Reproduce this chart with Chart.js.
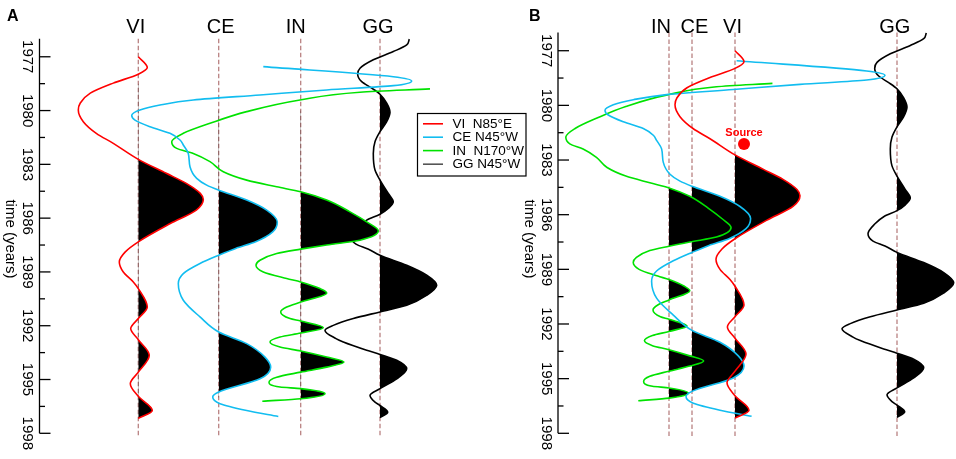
<!DOCTYPE html>
<html><head><meta charset="utf-8">
<script src="https://cdn.jsdelivr.net/npm/chart.js@4.4.1/dist/chart.umd.min.js"></script>
<style>html,body{margin:0;padding:0;background:#fff;}#wrap{width:956px;height:459px;position:relative;}</style>
</head><body><div id="wrap"><canvas id="c" width="956" height="459"></canvas></div>
<script>
// ---------------- data ----------------
const stationNames = ['VI', 'CE', 'IN', 'GG'];
const azimuths = ['N85°E', 'N45°W', 'N170°W', 'N45°W'];
const majorTickYears = [1977, 1980, 1983, 1986, 1989, 1992, 1995, 1998];
const minorTickYears = [1978.5, 1981.5, 1984.5, 1987.5, 1990.5, 1993.5, 1996.5];

const viYears = [1977.0, 1977.6, 1977.97, 1978.47, 1979.03, 1979.58, 1979.97, 1980.62, 1981.27, 1981.83, 1982.72, 1983.5, 1984.06, 1984.62, 1984.96, 1985.55, 1986.3, 1987.32, 1987.88, 1988.44, 1989.0, 1989.56, 1989.93, 1990.96, 1991.6, 1992.16, 1992.78, 1993.65, 1994.59, 1995.23, 1995.94, 1996.73, 1997.17];
const viAmp   = [0, 9, 0, -25, -48, -58, -60, -55, -42, -25, 0, 28, 48, 62, 65, 58, 32, 0, -13, -19, -15, -5, 0, 9, 0, -7.6, 0, 11, 0, -8, 0, 14, 0];

const ceYears = [1977.55, 1978.11, 1978.35, 1978.61, 1978.85, 1979.13, 1979.41, 1979.69, 1979.97, 1980.28, 1980.53, 1980.9, 1981.27, 1981.64, 1981.92, 1982.39, 1983.13, 1983.78, 1984.16, 1984.44, 1984.99, 1985.55, 1986.21, 1986.77, 1987.32, 1987.69, 1988.07, 1988.53, 1989.09, 1989.65, 1990.58, 1991.51, 1992.35, 1993.0, 1993.75, 1994.31, 1994.96, 1995.7, 1995.98, 1996.35, 1996.73, 1997.06];
const ceAmp   = [44.6, 174.6, 193, 174.6, 108, 41.3, -25.4, -58.7, -78.7, -87, -83.7, -68.7, -48.7, -38.7, -35.4, -30.4, -28.7, -22, -12, 0, 28, 48, 58.6, 54, 37, 17, 0, -18.7, -35.4, -40.4, -35.4, -18.7, 0, 28, 46.3, 52, 41.3, 0, -6, 1.3, 28, 59.6];

const inYears = [1978.79, 1978.98, 1979.41, 1980.06, 1980.71, 1981.27, 1981.74, 1982.11, 1982.39, 1982.85, 1983.41, 1983.88, 1984.25, 1984.53, 1984.99, 1985.65, 1986.21, 1986.71, 1987.23, 1987.5, 1987.73, 1987.97, 1988.35, 1988.63, 1989.0, 1989.37, 1989.56, 1989.93, 1990.17, 1990.68, 1990.96, 1991.23, 1991.6, 1991.74, 1992.11, 1992.41, 1992.63, 1992.91, 1993.19, 1993.41, 1993.75, 1994.03, 1994.31, 1994.59, 1994.87, 1995.15, 1995.42, 1995.51, 1995.79, 1996.07, 1996.21];
const inAmp   = [129.3, 59.3, -0.7, -54, -90.7, -117.4, -129, -124, -107.4, -90.7, -77.4, -54, -24, 0, 26, 49.3, 66, 77.6, 59.3, 26, 0, -24, -40.7, -44.7, -37.4, -14, 0, 19.3, 26, 0, -14, -20, -10.7, 0, 22.6, 0, -20.7, -30.7, -20.7, 0, 26, 43.3, 26, 0, -24, -31.7, -20.7, 0, 24.3, 0, -38.4];

const ggYears = [1976.02, 1976.34, 1976.71, 1977.17, 1977.64, 1977.97, 1978.39, 1978.75, 1979.09, 1979.59, 1980.09, 1980.62, 1981.18, 1981.74, 1982.39, 1983.32, 1983.88, 1984.62, 1985.09, 1985.46, 1985.78, 1986.11, 1986.5, 1987.05, 1987.45, 1987.72, 1988.07, 1988.63, 1989.18, 1989.74, 1990.3, 1990.86, 1991.23, 1991.6, 1991.98, 1992.26, 1992.72, 1992.91, 1993.37, 1993.6, 1993.93, 1994.4, 1994.96, 1995.51, 1995.89, 1996.26, 1996.45, 1996.82, 1997.13];
const ggAmp   = [29.3, 26.7, 13.3, -6.7, -20, -22.3, -18.3, -8.3, 0, 6.7, 10, 6.7, 0, -5, -6.7, -5, 0, 8.3, 13.3, 8.3, 0, -13.3, -22, -29, -24, -12, 0, 26.7, 46.7, 56.7, 46.7, 26.7, 0, -26.7, -46.7, -55, -44, -36.7, -13.3, 0, 16.7, 26.7, 16.7, 0, -10, -5, 0, 7.7, 0];

// trace offsets (station positions along the horizontal axis) and per panel gain
const offsetsA = [138.3, 218.7, 300.7, 380];
const offsetsB = [735, 692, 669, 897];
const gainA = [1, 1, 1, 1];
const gainB = [1, 1, 0.8, 1];
// windows (years) in which positive lobes are shaded
const shadeFrom = [1978.5, 1980, 1980, 1977.9];
const shadeTo   = [1998, 1996.0, 1998, 1998];

const sourceX = [744];
const sourceYear = [1982.12];

// ---------------- styles ----------------
const FONT = "'Liberation Sans', Arial, Helvetica, sans-serif";
const colors = ['#ff0000', '#12bdf0', '#00e200', '#000000'];
const legendColors = ['#ff0000', '#12bdf0', '#00e200', '#555555'];
const traceYears = [viYears, ceYears, inYears, ggYears];
const traceAmps = [viAmp, ceAmp, inAmp, ggAmp];

const datasets = [];
[['A', offsetsA, gainA, 'yA'], ['B', offsetsB, gainB, 'yB']].forEach(([panel, offs, gain, yid]) => {
  for (let i = 0; i < 4; i++) {
    datasets.push({
      label: panel + ' ' + stationNames[i],
      data: traceYears[i].map((yr, k) => ({ x: offs[i] + gain[i] * traceAmps[i][k], y: yr })),
      yAxisID: yid, xAxisID: 'x',
      borderColor: colors[i], borderWidth: 1.6,
      pointRadius: 0, pointHoverRadius: 0,
      cubicInterpolationMode: 'monotone', fill: false,
      baseline: offs[i], shadeFrom: shadeFrom[i], shadeTo: shadeTo[i]
    });
  }
});
datasets.unshift({
  label: 'Source',
  data: sourceX.map((x, k) => ({ x: x, y: sourceYear[k] })),
  yAxisID: 'yB', xAxisID: 'x', showLine: false,
  pointRadius: 6, pointBackgroundColor: '#ff0000', pointBorderColor: '#ff0000', pointBorderWidth: 0
});

// panel A has a slightly different vertical scale from panel B
const yAmin = 1998 - (433.3 - 32.5) / 17.93;

const panels = [
  { scale: 'yA', axisX: 39.5, offs: offsetsA, letter: 'A', letterX: 7, labelShift: [-2.5, 2, -5, -2] },
  { scale: 'yB', axisX: 558, offs: offsetsB, letter: 'B', letterX: 529, labelShift: [-2.5, 2.5, -8, -2.3] }
];

const wigglePlugin = {
  id: 'wiggle',
  beforeDatasetsDraw(chart) {
    const ctx = chart.ctx, area = chart.chartArea, xs = chart.scales.x;
    // dashed station lines
    panels.forEach(p => {
      const ys = chart.scales[p.scale];
      ctx.save();
      ctx.strokeStyle = '#b98282'; ctx.lineWidth = 1.3; ctx.setLineDash([4.5, 2.5]);
      p.offs.forEach(o => {
        const x = xs.getPixelForValue(o);
        ctx.beginPath(); ctx.moveTo(x, ys.getPixelForValue(1976)); ctx.lineTo(x, ys.getPixelForValue(1998.15)); ctx.stroke();
      });
      ctx.restore();
    });
    // shaded positive lobes
    chart.data.datasets.forEach((ds, i) => {
      if (ds.baseline === undefined) return;
      const meta = chart.getDatasetMeta(i);
      meta.dataset.updateControlPoints(area, 'y');
      const pts = meta.data;
      const ys = chart.scales[ds.yAxisID];
      const bx = xs.getPixelForValue(ds.baseline);
      const y0 = ys.getPixelForValue(ds.shadeFrom), y1 = ys.getPixelForValue(ds.shadeTo);
      ctx.save();
      ctx.beginPath(); ctx.rect(bx, y0, area.right - bx, y1 - y0); ctx.clip();
      ctx.beginPath();
      ctx.moveTo(pts[0].x, pts[0].y);
      for (let k = 1; k < pts.length; k++) {
        const p = pts[k - 1], q = pts[k];
        if (p.cp2x !== undefined && q.cp1x !== undefined) ctx.bezierCurveTo(p.cp2x, p.cp2y, q.cp1x, q.cp1y, q.x, q.y);
        else ctx.lineTo(q.x, q.y);
      }
      ctx.lineTo(bx, pts[pts.length - 1].y);
      ctx.lineTo(bx, pts[0].y);
      ctx.closePath();
      ctx.fillStyle = '#000';
      ctx.fill();
      ctx.restore();
    });
  },
  afterDraw(chart) {
    const ctx = chart.ctx, xs = chart.scales.x;
    panels.forEach(p => {
      const ys = chart.scales[p.scale];
      ctx.save();
      // panel letter
      ctx.fillStyle = '#000'; ctx.font = 'bold 16px ' + FONT; ctx.textAlign = 'left'; ctx.textBaseline = 'alphabetic';
      ctx.fillText(p.letter, p.letterX, 20.5);
      // station names
      ctx.font = '20px ' + FONT; ctx.textAlign = 'center';
      p.offs.forEach((o, i) => ctx.fillText(stationNames[i], xs.getPixelForValue(o) + p.labelShift[i], 33));
      // axis line
      ctx.strokeStyle = '#000'; ctx.lineWidth = 1.3;
      ctx.beginPath(); ctx.moveTo(p.axisX, ys.getPixelForValue(1976)); ctx.lineTo(p.axisX, ys.getPixelForValue(1998)); ctx.stroke();
      minorTickYears.forEach(t => {
        const y = ys.getPixelForValue(t);
        ctx.beginPath(); ctx.moveTo(p.axisX, y); ctx.lineTo(p.axisX + 5.5, y); ctx.stroke();
      });
      ctx.font = '15px ' + FONT; ctx.textBaseline = 'middle'; ctx.textAlign = 'center';
      majorTickYears.forEach(t => {
        const y = ys.getPixelForValue(t);
        ctx.beginPath(); ctx.moveTo(p.axisX, y); ctx.lineTo(p.axisX + 11, y); ctx.stroke();
        ctx.save(); ctx.translate(p.axisX - 12, y); ctx.rotate(Math.PI / 2); ctx.fillText(String(t), 0, 0); ctx.restore();
      });
      ctx.save(); ctx.translate(p.axisX - 29, 239); ctx.rotate(Math.PI / 2); ctx.fillText('time (years)', 0, 0); ctx.restore();
      ctx.restore();
    });
    // legend
    ctx.save();
    ctx.fillStyle = '#fff'; ctx.fillRect(417.5, 113.5, 108.5, 62.5);
    ctx.strokeStyle = '#000'; ctx.lineWidth = 1.2; ctx.strokeRect(417.5, 113.5, 108.5, 62.5);
    const rows = [123.8, 137.2, 150.6, 164.2];
    const legendText = ['VI  ', 'CE ', 'IN  ', 'GG '];
    ctx.font = '13.5px ' + FONT; ctx.textBaseline = 'middle'; ctx.textAlign = 'left';
    rows.forEach((y, i) => {
      ctx.strokeStyle = legendColors[i]; ctx.lineWidth = 1.6;
      ctx.beginPath(); ctx.moveTo(423, y); ctx.lineTo(443, y); ctx.stroke();
      ctx.fillStyle = '#000'; ctx.fillText(legendText[i] + azimuths[i], 452.5, y + 0.5);
    });
    // source label
    const sx = xs.getPixelForValue(sourceX[0]);
    const sy = chart.scales.yB.getPixelForValue(sourceYear[0]);
    ctx.fillStyle = '#ff0000'; ctx.font = 'bold 11px ' + FONT; ctx.textAlign = 'center';
    ctx.fillText('Source', sx, sy - 11);
    ctx.restore();
  }
};

new Chart(document.getElementById('c'), {
  type: 'line',
  data: { datasets },
  options: {
    responsive: false, animation: false, indexAxis: 'y',
    layout: { autoPadding: false, padding: { top: 32.5, bottom: 25.7, left: 0, right: 0 } },
    plugins: { legend: { display: false }, tooltip: { enabled: false } },
    events: [],
    scales: {
      x: { type: 'linear', min: 0, max: 956, display: false },
      yA: { type: 'linear', axis: 'y', min: yAmin, max: 1998, reverse: true, display: false },
      yB: { type: 'linear', axis: 'y', min: 1976, max: 1998, reverse: true, display: false }
    }
  },
  plugins: [wigglePlugin]
});
</script>
</body></html>
